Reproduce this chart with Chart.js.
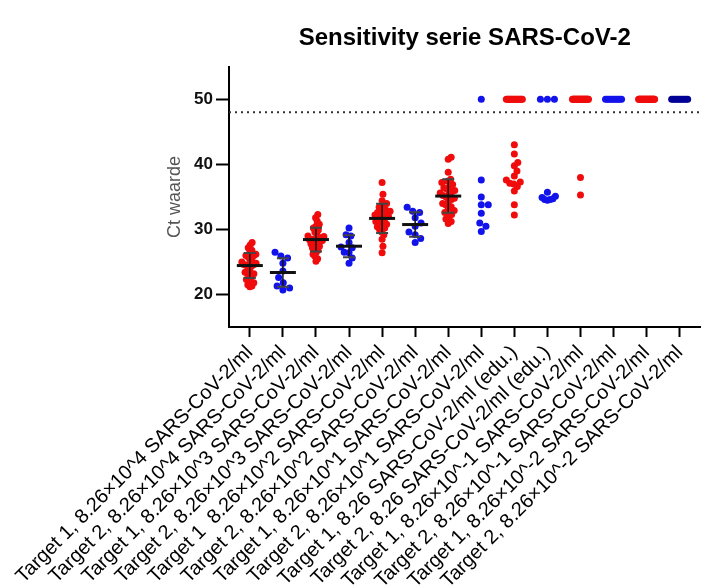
<!DOCTYPE html>
<html><head><meta charset="utf-8">
<script src="https://cdn.jsdelivr.net/npm/chart.js@4"></script>
<style>html,body{margin:0;padding:0;background:#fff}#wrap{width:704px;height:588px;position:relative}</style>
</head><body><div id="wrap"><canvas id="c"></canvas></div>
<script>
const categories = [
  'Target 1, 8.26\u00d710^4 SARS-CoV-2/ml',
  'Target 2, 8.26\u00d710^4 SARS-CoV-2/ml',
  'Target 1, 8.26\u00d710^3 SARS-CoV-2/ml',
  'Target 2, 8.26\u00d710^3 SARS-CoV-2/ml',
  'Target 1  8.26\u00d710^2 SARS-CoV-2/ml',
  'Target 2, 8.26\u00d710^2 SARS-CoV-2/ml',
  'Target 1, 8.26\u00d710^1 SARS-CoV-2/ml',
  'Target 2, 8.26\u00d710^1 SARS-CoV-2/ml',
  'Target 1, 8.26 SARS-CoV-2/ml (edu.)',
  'Target 2, 8.26 SARS-CoV-2/ml (edu.)',
  'Target 1, 8.26\u00d710^-1 SARS-CoV-2/ml',
  'Target 2, 8.26\u00d710^-1 SARS-CoV-2/ml',
  'Target 1, 8.26\u00d710^-2 SARS-CoV-2/ml',
  'Target 2, 8.26\u00d710^-2 SARS-CoV-2/ml'
];
// Ct values per group (50 = not detected)
const t1_e4 = [28.0, 27.6, 27.2, 26.8, 26.5, 26.2, 26.0, 25.8, 25.5, 25.3, 25.0, 24.8, 24.6, 24.5, 24.3, 24.6, 24.4, 24.0, 23.4, 23.2, 23.3, 23.1, 23.0, 22.2, 22.3, 21.8, 21.5, 21.2, 21.3, 26.0];
const t2_e4 = [26.5, 25.9, 25.6, 24.8, 23.6, 22.6, 21.8, 21.3, 21.0, 20.7];
const t1_e3 = [32.3, 31.8, 31.3, 30.8, 30.5, 30.2, 29.9, 29.6, 29.3, 29.0, 28.8, 28.6, 28.5, 28.3, 28.2, 28.0, 27.8, 27.6, 27.4, 27.2, 27.0, 26.8, 26.5, 26.2, 25.9, 25.5, 25.1, 28.9, 28.4, 27.9];
const t2_e3 = [30.2, 29.2, 29.0, 28.0, 27.3, 27.2, 26.5, 26.4, 25.6, 24.8];
const t1_e2 = [37.2, 35.4, 34.4, 34.0, 33.7, 33.4, 33.2, 33.0, 32.8, 32.6, 32.4, 32.2, 32.0, 31.9, 31.8, 31.6, 31.4, 31.2, 31.0, 30.8, 30.6, 30.4, 30.2, 30.0, 29.6, 29.2, 28.5, 27.4, 26.4, 32.5];
const t2_e2 = [33.4, 32.8, 32.6, 31.8, 31.0, 30.5, 29.6, 29.2, 28.6, 28.0];
const t1_e1 = [41.1, 40.8, 38.8, 37.7, 37.4, 37.2, 36.9, 36.6, 36.4, 36.2, 36.0, 35.8, 35.6, 35.4, 35.2, 35.0, 34.8, 34.6, 34.3, 34.0, 33.8, 33.5, 33.2, 32.9, 32.6, 32.3, 32.0, 31.6, 31.2, 30.9];
const t2_e1 = [50, 37.6, 35.0, 33.8, 33.8, 32.5, 31.0, 30.5, 29.7];
const t1_e0 = [43.0, 41.6, 40.3, 39.8, 39.0, 38.2, 37.6, 37.3, 37.1, 37.0, 36.6, 35.9, 33.8, 32.2, 50, 50, 50, 50, 50, 50, 50, 50, 50, 50, 50, 50, 50, 50, 50, 50];
const t2_e0 = [34.5, 34.6, 34.7, 34.9, 35.1, 35.7, 34.6, 50, 50, 50];
const t1_em1 = [38.0, 35.3, 50, 50, 50, 50, 50, 50, 50, 50, 50, 50, 50, 50, 50, 50, 50, 50, 50, 50, 50, 50, 50, 50, 50, 50, 50, 50, 50, 50];
const t2_em1 = [50, 50, 50, 50, 50, 50, 50, 50, 50, 50];
const t1_em2 = [50, 50, 50, 50, 50, 50, 50, 50, 50, 50, 50, 50, 50, 50, 50, 50, 50, 50, 50, 50, 50, 50, 50, 50, 50, 50, 50, 50, 50, 50];
const t2_em2 = [50, 50, 50, 50, 50, 50, 50, 50, 50, 50];
const groups = [t1_e4, t2_e4, t1_e3, t2_e3, t1_e2, t2_e2, t1_e1, t2_e1, t1_e0, t2_e0, t1_em1, t2_em1, t1_em2, t2_em2];
const showSummary = [true, true, true, true, true, true, true, false, false, false, false, false, false, false];
const notDetected = 50;
const cutoff = 48;
const yTicks = [20, 30, 40, 50];
const yRange = [15, 55];
const xRange = [-0.63, 13.63];

const RED = 'rgb(240,12,12)', BLUE = 'rgb(18,18,235)', NAVY = 'rgb(0,0,150)';
const groupColors = [RED, BLUE, RED, BLUE, RED, BLUE, RED, BLUE, RED, BLUE, RED, BLUE, RED, NAVY];

const FONT = '"Liberation Sans", Arial, sans-serif';

function mean(a) { return a.reduce((s, v) => s + v, 0) / a.length; }
function sd(a) { const m = mean(a); return Math.sqrt(a.reduce((s, v) => s + (v - m) * (v - m), 0) / (a.length - 1)); }

function swarmPx(vals, py) {
  const D = 7, MAXH = 8;
  const n = vals.length; const off = new Array(n).fill(0);
  const top = [], rest = [];
  vals.forEach((v, i) => (v >= notDetected ? top : rest).push(i));
  if (top.length > 1) {
    const sp = Math.min(D, 2 * MAXH / (top.length - 1));
    top.forEach((i, k) => off[i] = (k - (top.length - 1) / 2) * sp);
  }
  rest.sort((a, b) => vals[a] - vals[b]);
  const placed = [];
  rest.forEach(i => {
    const y = py[i];
    const near = placed.filter(p => Math.abs(p.y - y) < D);
    const cands = [0];
    near.forEach(p => { const dx = Math.sqrt(D * D - (p.y - y) ** 2); cands.push(p.x + dx, p.x - dx); });
    cands.sort((a, b) => Math.abs(a) - Math.abs(b));
    let x = cands.find(c => near.every(p => (p.x - c) ** 2 + (p.y - y) ** 2 >= D * D - 0.01));
    if (x === undefined) x = 0;
    placed.push({ x, y, i }); off[i] = x;
  });
  const m = Math.max(0, ...placed.map(p => Math.abs(p.x)));
  if (m > MAXH) placed.forEach(p => off[p.i] = p.x * MAXH / m);
  return off;
}

const summaryPlugin = {
  id: 'summary',
  afterDatasetsDraw(chart) {
    const { ctx, scales: { x, y } } = chart;
    ctx.save();
    groups.forEach((vals, i) => {
      if (!showSummary[i]) return;
      const m = mean(vals), s = sd(vals);
      const cx = x.getPixelForValue(i);
      const yt = y.getPixelForValue(m + s), yb = y.getPixelForValue(m - s), ym = y.getPixelForValue(m);
      ctx.strokeStyle = '#111'; ctx.lineWidth = 1.5;
      ctx.beginPath(); ctx.moveTo(cx, yt); ctx.lineTo(cx, yb); ctx.stroke();
      ctx.strokeStyle = '#444'; ctx.lineWidth = 2;
      ctx.beginPath(); ctx.moveTo(cx - 6, yt); ctx.lineTo(cx + 6, yt); ctx.moveTo(cx - 6, yb); ctx.lineTo(cx + 6, yb); ctx.stroke();
      ctx.strokeStyle = '#111'; ctx.lineWidth = 3;
      ctx.beginPath(); ctx.moveTo(cx - 13, ym); ctx.lineTo(cx + 13, ym); ctx.stroke();
    });
    ctx.restore();
  }
};

const datasets = groups.map((vals, i) => ({
  type: 'scatter',
  label: categories[i],
  data: vals.map(v => ({ x: i, y: v })),
  backgroundColor: groupColors[i],
  borderWidth: 0,
  pointRadius: 3.5,
  pointHoverRadius: 3.5,
  order: 1
}));
datasets.push({
  type: 'line',
  label: 'cutoff',
  data: [{ x: xRange[0], y: cutoff }, { x: xRange[1], y: cutoff }],
  borderColor: '#333',
  borderWidth: 2,
  borderDash: [2, 4],
  pointRadius: 0,
  order: 2
});

const chart = new Chart(document.getElementById('c'), {
  type: 'scatter',
  data: { datasets },
  plugins: [summaryPlugin],
  options: {
    responsive: true,
    maintainAspectRatio: false,
    animation: false,
    layout: { padding: { left: 163, right: 0, top: 0, bottom: 0 } },
    plugins: {
      legend: { display: false },
      tooltip: { enabled: false },
      title: {
        display: true,
        text: 'Sensitivity serie SARS-CoV-2',
        fullSize: false,
        color: '#000',
        font: { family: FONT, size: 24, weight: 'bold' },
        padding: { top: 24, bottom: 14 }
      }
    },
    scales: {
      x: {
        type: 'linear',
        min: xRange[0], max: xRange[1],
        afterBuildTicks: (axis) => { axis.ticks = categories.map((c, i) => ({ value: i })); },
        afterFit: (axis) => { axis.height = 261; axis.paddingLeft = 0; axis.paddingRight = 0; },
        grid: { display: true, drawOnChartArea: false, drawTicks: true, tickLength: 10, tickWidth: 2, color: '#000' },
        border: { display: true, width: 2, color: '#000' },
        ticks: {
          autoSkip: false, minRotation: 45, maxRotation: 45, padding: 4,
          color: '#000',
          font: { family: FONT, size: 20 },
          callback: (v) => categories[v]
        }
      },
      y: {
        min: yRange[0], max: yRange[1],
        afterBuildTicks: (axis) => { axis.ticks = yTicks.map(v => ({ value: v })); },
        afterFit: (axis) => { axis.width = 66; axis.paddingTop = 0; axis.paddingBottom = 0; },
        grid: { display: true, drawOnChartArea: false, drawTicks: true, tickLength: 13, tickWidth: 2, color: '#000' },
        border: { display: true, width: 2, color: '#000' },
        ticks: { color: '#111', padding: 3, font: { family: FONT, size: 17, weight: 'bold' } },
        title: { display: true, text: 'Ct waarde', color: '#555', font: { family: FONT, size: 18 }, padding: { top: 1, bottom: 0 } }
      }
    }
  }
});

// beeswarm offsets computed from the chart's own scales
(function () {
  const xs = chart.scales.x, ys = chart.scales.y;
  const unit = xs.getPixelForValue(1) - xs.getPixelForValue(0);
  groups.forEach((vals, gi) => {
    const offs = swarmPx(vals, vals.map(v => ys.getPixelForValue(v)));
    chart.data.datasets[gi].data = vals.map((v, k) => ({ x: gi + offs[k] / unit, y: v }));
  });
  chart.update('none');
})();
</script>
</body></html>
